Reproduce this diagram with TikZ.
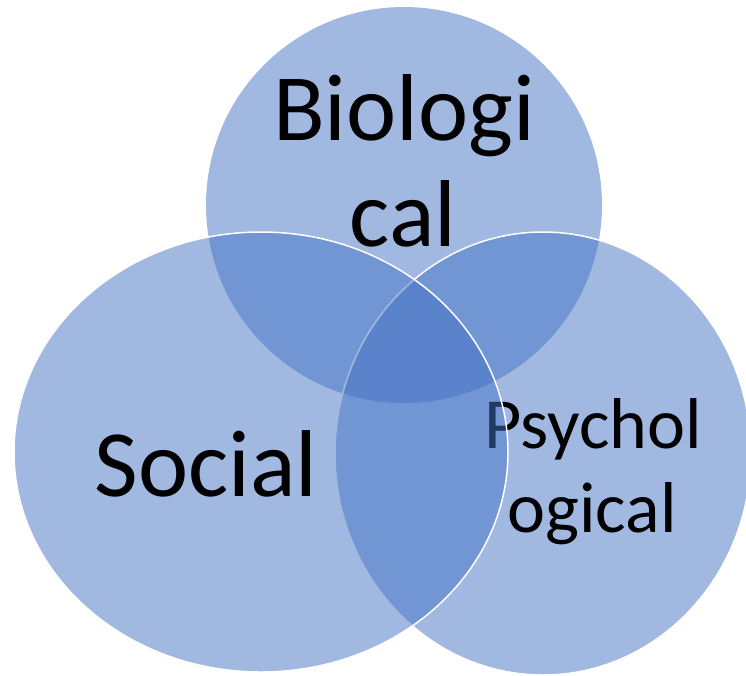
\documentclass[tikz,border=0pt]{standalone}
\usepackage{fontspec}
\setmainfont{Carlito}
\definecolor{vennblue}{HTML}{4472C4}
\begin{document}
\begin{tikzpicture}[x=1pt,y=-1pt,
  venn/.style={fill=vennblue, fill opacity=0.5},
  rim/.style={draw=white, line width=1.5pt},
  bigtext/.style={font=\fontsize{95}{106}\selectfont, anchor=base, inner sep=0pt, text=black},
  midtext/.style={font=\fontsize{72}{84}\selectfont, anchor=base, inner sep=0pt, text=black}]
\useasboundingbox (0,0) rectangle (746,675);
\clip (0,0) rectangle (746,675);
% top circle
\fill[venn] (404,205) ellipse [x radius=198pt, y radius=198pt];
\node[bigtext] (bioA) at (404,140) {Biologi};
\node[bigtext] (bioB) at (403,246) {cal};
% right ellipse
\path[venn, rim] (543,453.5) ellipse [x radius=208pt, y radius=221.5pt];
\node[midtext] (psyA) at (593,448) {Psychol};
\node[midtext] (psyB) at (592,532) {ogical};
% left ellipse
\path[venn, rim] (261,452) ellipse [x radius=247pt, y radius=220pt];
\node[bigtext] (soc) at (206,496) {Social};
\end{tikzpicture}
\end{document}
